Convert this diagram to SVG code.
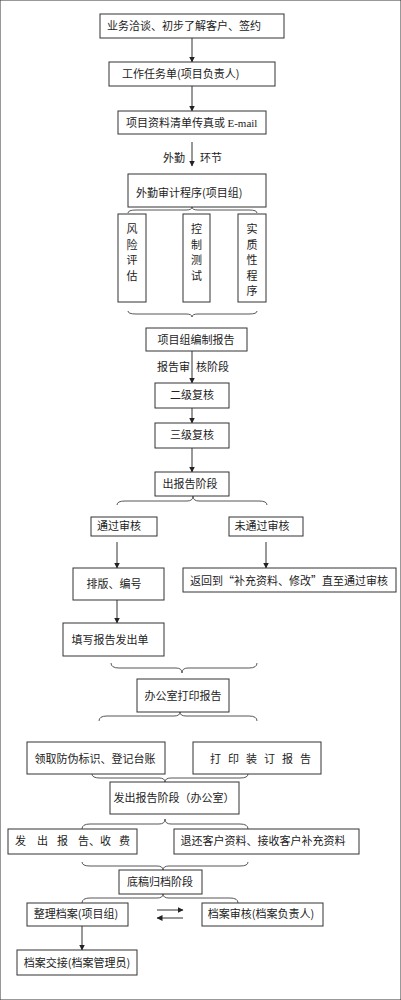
<svg xmlns="http://www.w3.org/2000/svg" width="401" height="1000" viewBox="0 0 401 1000">
<defs>
<marker id="ah" markerWidth="6" markerHeight="6" refX="5.5" refY="3" orient="auto" markerUnits="userSpaceOnUse">
<path d="M0,0 L6,3 L0,6 Z" fill="#222"/>
</marker>
<style>
rect{fill:#fff;stroke:#333;stroke-width:1}
text{font-family:"Noto Sans CJK SC","Noto Sans CJK JP",sans-serif;font-size:11px;fill:#222}
.m{text-anchor:middle}
.c line{stroke:#333;stroke-width:1}
.c .a{marker-end:url(#ah)}
.b{fill:none;stroke:#444;stroke-width:0.9}
.ser{font-family:"Liberation Serif",serif}
</style>
</defs>
<rect width="401" height="1000" fill="#fff" stroke="none"/>

<g class="c" id="connectors">
<line class="a" x1="192" y1="38" x2="192" y2="62"/>
<line class="a" x1="192" y1="86" x2="192" y2="111"/>
<line class="a" x1="192" y1="142" x2="192" y2="166"/>
<line class="a" x1="192" y1="351" x2="192" y2="383"/>
<line class="a" x1="192" y1="408" x2="192" y2="423"/>
<line class="a" x1="192" y1="448" x2="192" y2="472"/>
<line class="a" x1="117" y1="542" x2="117" y2="568"/>
<line class="a" x1="266" y1="542" x2="266" y2="568"/>
<line class="a" x1="117" y1="600" x2="117" y2="623"/>
<line class="a" x1="157" y1="910" x2="183" y2="910"/>
<line class="a" x1="183" y1="918" x2="157" y2="918"/>
<line class="a" x1="82" y1="926" x2="82" y2="950"/>
<path class="b" d="M128,213 Q128,210 136,210 L186,210 Q192,210 192,207 Q192,210 198,210 L249,210 Q257,210 257,213"/>
<path class="b" d="M128,311 Q128,314 136,314 L186,314 Q192,314 192,317 Q192,314 198,314 L249,314 Q257,314 257,311"/>
<path class="b" d="M117,505 Q117,501 125,501 L187,501 Q193,501 193,496 Q193,501 199,501 L259,501 Q267,501 267,505"/>
<path class="b" d="M111,663 Q111,668 119,668 L176,668 Q182,668 182,673 Q182,668 188,668 L249,668 Q257,668 257,663"/>
<path class="b" d="M99,721 Q99,716 107,716 L174,716 Q180,716 180,712 Q180,716 186,716 L249,716 Q257,716 257,721"/>
<path class="b" d="M92,774 Q92,778 100,778 L159,778 Q165,778 165,782 Q165,778 171,778 L240,778 Q248,778 248,774"/>
<path class="b" d="M82,829 Q82,824 90,824 L159,824 Q165,824 165,819 Q165,824 171,824 L240,824 Q248,824 248,829"/>
<path class="b" d="M82,862 Q82,866 90,866 L157,866 Q163,866 163,870 Q163,866 169,866 L240,866 Q248,866 248,862"/>
<path class="b" d="M82,903 Q82,898 90,898 L157,898 Q163,898 163,894 Q163,898 169,898 L230,898 Q238,898 238,903"/>
</g>

<g id="lbl-waiqin"><text x="163" y="162">外勤</text><text x="200" y="162">环节</text></g>
<g id="lbl-shenhe"><text x="157" y="371">报告审</text><text x="196" y="371">核阶段</text></g>

<g id="n1"><rect x="100" y="14" width="184" height="24"/><text x="107" y="30">业务洽谈、初步了解客户、签约</text></g>
<g id="n2"><rect x="109" y="62" width="166" height="24"/><text x="122" y="78">工作任务单(项目负责人)</text></g>
<g id="n3"><rect x="118" y="111" width="148" height="23"/><text x="126" y="127">项目资料清单传真或 <tspan class="ser">E-mail</tspan></text></g>
<g id="n4"><rect x="128" y="174" width="138" height="33"/><text x="136" y="197">外勤审计程序(项目组)</text></g>
<g id="n5"><rect x="118" y="214" width="28" height="88"/><text class="m" x="132" y="233">风</text><text class="m" x="132" y="248.5">险</text><text class="m" x="132" y="264">评</text><text class="m" x="132" y="279.5">估</text></g>
<g id="n6"><rect x="183" y="214" width="27" height="88"/><text class="m" x="196.5" y="233">控</text><text class="m" x="196.5" y="248.5">制</text><text class="m" x="196.5" y="264">测</text><text class="m" x="196.5" y="279.5">试</text></g>
<g id="n7"><rect x="238" y="214" width="28" height="88"/><text class="m" x="252" y="233">实</text><text class="m" x="252" y="248.5">质</text><text class="m" x="252" y="264">性</text><text class="m" x="252" y="279.5">程</text><text class="m" x="252" y="295">序</text></g>
<g id="n8"><rect x="146" y="328" width="101" height="23"/><text class="m" x="196" y="344">项目组编制报告</text></g>
<g id="n9"><rect x="155" y="383" width="74" height="25"/><text class="m" x="192" y="399">二级复核</text></g>
<g id="n10"><rect x="155" y="423" width="74" height="25"/><text class="m" x="192" y="439">三级复核</text></g>
<g id="n11"><rect x="155" y="472" width="74" height="24"/><text class="m" x="190" y="488">出报告阶段</text></g>
<g id="n12"><rect x="91" y="517" width="66" height="19"/><text class="m" x="119" y="530">通过审核</text></g>
<g id="n13"><rect x="229" y="517" width="74" height="19"/><text class="m" x="262" y="530">未通过审核</text></g>
<g id="n14"><rect x="73" y="568" width="91" height="32"/><text class="m" x="114" y="588">排版、编号</text></g>
<g id="n15"><rect x="183" y="568" width="213" height="24"/><text x="190" y="585">返回到“补充资料、修改”直至通过审核</text></g>
<g id="n16"><rect x="63" y="623" width="101" height="33"/><text class="m" x="110" y="644">填写报告发出单</text></g>
<g id="n17"><rect x="137" y="679" width="92" height="33"/><text class="m" x="183" y="700">办公室打印报告</text></g>
<g id="n18"><rect x="27" y="742" width="138" height="32"/><text class="m" x="95" y="763">领取防伪标识、登记台账</text></g>
<g id="n19"><rect x="193" y="742" width="128" height="32"/><text x="210" y="763"><tspan x="210">打</tspan><tspan x="228">印</tspan><tspan x="246">装</tspan><tspan x="264">订</tspan><tspan x="282">报</tspan><tspan x="300">告</tspan></text></g>
<g id="n20"><rect x="110" y="782" width="129" height="32"/><text class="m" x="174" y="802">发出报告阶段（办公室）</text></g>
<g id="n21"><rect x="8" y="829" width="129" height="25"/><text y="845"><tspan x="15">发</tspan><tspan x="37">出</tspan><tspan x="57">报</tspan><tspan x="78">告、</tspan><tspan x="100">收</tspan><tspan x="119">费</tspan></text></g>
<g id="n22"><rect x="174" y="829" width="185" height="25"/><text class="m" x="263" y="845">退还客户资料、接收客户补充资料</text></g>
<g id="n23"><rect x="119" y="870" width="83" height="24"/><text class="m" x="160" y="886">底稿归档阶段</text></g>
<g id="n24"><rect x="27" y="903" width="101" height="23"/><text class="m" x="76" y="918">整理档案(项目组)</text></g>
<g id="n25"><rect x="202" y="903" width="121" height="23"/><text class="m" x="261" y="918">档案审核(档案负责人)</text></g>
<g id="n26"><rect x="17" y="950" width="120" height="25"/><text class="m" x="77" y="967">档案交接(档案管理员)</text></g>
</svg>
